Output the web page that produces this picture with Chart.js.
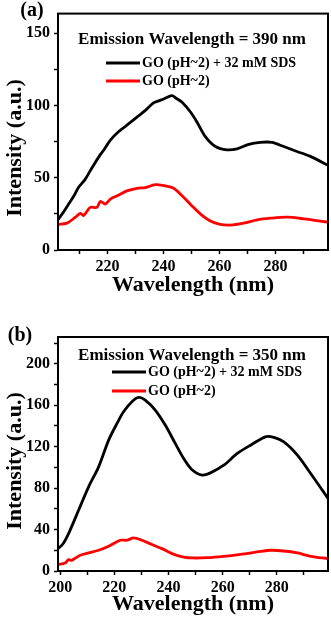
<!DOCTYPE html>
<html>
<head>
<meta charset="utf-8">
<script src="https://cdn.jsdelivr.net/npm/chart.js@4.4.0/dist/chart.umd.min.js"></script>
<style>
  html, body { margin: 0; padding: 0; background: #fff; }
  .panel { position: absolute; left: 0; width: 331px; height: 310px; }
</style>
</head>
<body>
<div class="panel" style="top:0"><canvas id="chartA" width="331" height="310"></canvas></div>
<div class="panel" style="top:310px"><canvas id="chartB" width="331" height="310"></canvas></div>
<script>
// panel (a): emission at 390 nm
const wlBlackA = [202.3, 204, 206.1, 208, 209.6, 212, 214.4, 217.4, 218.4, 219.6, 221, 223.9, 226.9, 230.5, 233.5, 236.4, 238, 240, 243, 244.5, 246.6, 249.8, 251.9, 254.9, 258.5, 262.6, 266.2, 270.4, 274.5, 278.7, 282.9, 287.6, 292.4, 298.7];
const sdsA = [20.9, 25.5, 31.8, 37.5, 43.2, 48.9, 56.8, 66, 68.5, 72, 76.1, 81.8, 86.4, 92, 96.6, 101.8, 103, 104.5, 106.8, 105, 102.2, 95, 88.6, 78.4, 71.6, 69.3, 70, 73.1, 74.5, 74.5, 71.6, 68.2, 64.8, 58.6];
const wlRedA = [202.3, 205.5, 208.5, 210.3, 211.4, 213.8, 216.2, 217.4, 219.2, 221, 223.4, 226.9, 230.5, 233.5, 237, 240.6, 243.6, 246.6, 249.8, 253.1, 256.7, 260.2, 263.8, 268.6, 273.4, 278.1, 284.1, 290, 298.7];
const goA = [17.7, 18.6, 22.7, 25.4, 23.9, 29.5, 29.5, 33.6, 31.8, 35.2, 37.5, 40.9, 42.7, 43.2, 45.2, 44.3, 42.7, 37.5, 31.2, 25, 20, 17.7, 17.2, 18.6, 20.9, 22, 22.7, 21.6, 19.3];

// panel (b): emission at 350 nm
const wlBlackB = [199.2, 201, 203.1, 206.8, 210.5, 214.2, 217.9, 221, 223.4, 226.5, 229, 231.4, 235.1, 238.8, 242.5, 245.6, 248.6, 252.4, 255.5, 260.4, 265.4, 270.3, 275.8, 278.9, 282.6, 287.6, 292.5, 296.8, 298.9];
const sdsB = [21.6, 26, 36.1, 58.6, 81.2, 100.5, 126.3, 142.4, 153.6, 163.3, 167.5, 164.9, 155.3, 140.8, 123.1, 108.6, 98, 92.5, 94.7, 102.1, 113.4, 121.4, 129.5, 128.9, 124.6, 111.8, 94.1, 78, 70];
const wlRedB = [199.2, 201.8, 203.1, 204.3, 207.4, 210.5, 214.2, 217.9, 222.2, 224.7, 227.1, 230.2, 233.9, 237.6, 241.3, 245.6, 249, 254.3, 260.4, 266.6, 272.8, 277.7, 282.6, 287.6, 292.5, 298.9];
const goB = [6.2, 7.7, 11, 10.3, 15.2, 17.4, 20, 23.9, 29.7, 29.7, 31.9, 29.7, 25.5, 21.6, 16.8, 13.5, 12.6, 12.9, 14.2, 16.1, 18.4, 20, 19.3, 17.4, 14.2, 12];

const seriesNames = ["GO (pH~2) + 32 mM SDS", "GO (pH~2)"];
const FONT = '"Liberation Serif", "Times New Roman", serif';

Chart.defaults.color = "#000";
Chart.defaults.font.family = FONT;

const toPoints = (xs, ys) => xs.map((x, i) => ({ x: x, y: ys[i] }));

// frame, note, legend and y title drawn on top of the plot
const panelDecor = {
  id: "panelDecor",
  afterDraw(chart, args, opts) {
    const { ctx, chartArea: a } = chart;
    ctx.save();
    ctx.strokeStyle = "#000";
    ctx.lineWidth = 2;
    ctx.strokeRect(a.left, a.top, a.right - a.left, a.bottom - a.top);

    ctx.fillStyle = "#000";
    ctx.textBaseline = "middle";
    ctx.textAlign = "center";
    ctx.font = "bold 17px " + FONT;
    ctx.fillText(opts.note, opts.noteX, opts.noteY);

    ctx.font = "bold 20px " + FONT;
    ctx.fillText(opts.tag, opts.tagX, opts.tagY);

    ctx.font = "bold 14px " + FONT;
    ctx.textAlign = "left";
    chart.data.datasets.forEach((ds, i) => {
      const y = opts.legendY[i];
      ctx.strokeStyle = ds.borderColor;
      ctx.lineWidth = 3;
      ctx.beginPath();
      ctx.moveTo(opts.legendX, y);
      ctx.lineTo(opts.legendX + 34, y);
      ctx.stroke();
      ctx.fillText(ds.label, opts.legendX + 36, y);
    });

    ctx.translate(15, opts.yTitleY);
    ctx.rotate(-Math.PI / 2);
    ctx.textAlign = "center";
    ctx.font = "bold 22px " + FONT;
    ctx.fillText("Intensity (a.u.)", 0, 0);
    ctx.restore();
  },
};

function makeChart(id, cfg) {
  new Chart(document.getElementById(id), {
    type: "line",
    data: {
      datasets: [
        {
          label: seriesNames[0],
          data: toPoints(cfg.wlBlack, cfg.black),
          borderColor: "#000000",
          borderWidth: 2.8,
          pointRadius: 0,
          tension: 0.3,
        },
        {
          label: seriesNames[1],
          data: toPoints(cfg.wlRed, cfg.red),
          borderColor: "#ff0000",
          borderWidth: 2.8,
          pointRadius: 0,
          tension: 0.3,
        },
      ],
    },
    options: {
      responsive: false,
      animation: false,
      events: [],
      layout: { padding: { top: cfg.top, right: 3, left: 0, bottom: 0 } },
      plugins: {
        legend: { display: false },
        tooltip: { enabled: false },
        panelDecor: cfg.decor,
      },
      scales: {
        x: {
          type: "linear",
          min: cfg.xMin,
          max: cfg.xMax,
          afterFit: (s) => { s.height = cfg.xHeight; },
          border: { display: true, color: "#000", width: 2 },
          grid: { drawOnChartArea: false, tickLength: 4, color: "#000", tickWidth: 1.5 },
          ticks: {
            stepSize: 10,
            includeBounds: false,
            autoSkip: false,
            maxRotation: 0,
            padding: 3,
            font: { size: 16, weight: "bold" },
            callback: (v) => (v % 20 === 0 ? v : ""),
          },
          title: {
            display: true,
            text: "Wavelength (nm)",
            font: { size: 22, weight: "bold" },
            padding: { top: 0, bottom: cfg.xTitlePad },
          },
        },
        y: {
          min: 0,
          max: cfg.yMax,
          afterFit: (s) => { s.width = 58; },
          border: { display: true, color: "#000", width: 2 },
          grid: { drawOnChartArea: false, tickLength: 4, color: "#000", tickWidth: 1.5 },
          ticks: {
            stepSize: cfg.yStep,
            includeBounds: false,
            autoSkip: false,
            padding: 4,
            font: { size: 16, weight: "bold" },
            callback: (v) => (v % cfg.yLabelEvery === 0 ? v : ""),
          },
        },
      },
    },
    plugins: [panelDecor],
  });
}

makeChart("chartA", {
  wlBlack: wlBlackA, black: sdsA, wlRed: wlRedA, red: goA,
  xMin: 202.3, xMax: 298.7, yMax: 163.6, yStep: 25, yLabelEvery: 50,
  top: 10, xHeight: 60, xTitlePad: 11,
  decor: {
    note: "Emission Wavelength = 390 nm", noteX: 192, noteY: 40,
    tag: "(a)", tagX: 32, tagY: 11,
    legendX: 106, legendY: [63, 81], yTitleY: 148,
  },
});

makeChart("chartB", {
  wlBlack: wlBlackB, black: sdsB, wlRed: wlRedB, red: goB,
  xMin: 199.2, xMax: 298.9, yMax: 225.8, yStep: 20, yLabelEvery: 40,
  top: 27, xHeight: 49, xTitlePad: 2,
  decor: {
    note: "Emission Wavelength = 350 nm", noteX: 192, noteY: 45.5,
    tag: "(b)", tagX: 20, tagY: 25.5,
    legendX: 112, legendY: [62, 81], yTitleY: 151,
  },
});
</script>
</body>
</html>
